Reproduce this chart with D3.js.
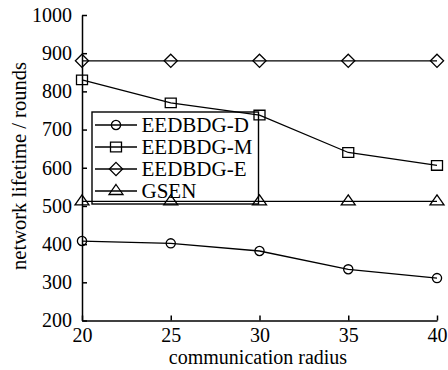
<!DOCTYPE html>
<html>
<head>
<meta charset="utf-8">
<script src="https://cdn.jsdelivr.net/npm/d3@7/dist/d3.min.js"></script>
<style>
  html, body { margin: 0; padding: 0; background: #fff; }
  svg { display: block; font-family: "Liberation Serif", "Times New Roman", serif; }
</style>
</head>
<body>
<svg id="chart" width="448" height="370"></svg>
<script>
// Communication radius on the x axis
const radius = [20, 25, 30, 35, 40];

// Network lifetime (rounds) for each protocol
const eedbdgD = [408, 402, 382, 334, 311];
const eedbdgM = [830, 770, 738, 640, 606];
const eedbdgE = [880, 880, 880, 880, 880];
const gsen    = [512, 512, 512, 512, 512];

const seriesNames = ["EEDBDG-D", "EEDBDG-M", "EEDBDG-E", "GSEN"];
const seriesValues = [eedbdgD, eedbdgM, eedbdgE, gsen];
const seriesMarkers = ["circle", "square", "diamond", "triangle"];

const xTicks = [20, 25, 30, 35, 40];
const yTicks = [200, 300, 400, 500, 600, 700, 800, 900, 1000];

const xLabel = "communication radius";
const yLabel = "network lifetime / rounds";

const svg = d3.select("#chart");
const x = d3.scaleLinear().domain([20, 40]).range([82, 437]);
const y = d3.scaleLinear().domain([200, 1000]).range([320.5, 15]);

// Open marker shapes, centred on (0,0)
function markerPath(kind) {
  switch (kind) {
    case "circle": {
      const p = d3.path(); p.arc(0, 0, 4.6, 0, 2 * Math.PI); return p.toString();
    }
    case "square": return "M-5.5,-4.8H5.5V4.8H-5.5Z";
    case "diamond": return "M0,-6.6L6.6,0L0,6.6L-6.6,0Z";
    case "triangle": return "M0,-6.5L7,3.5L-7,3.5Z";
  }
}

// Legend box (drawn first so the series lines sit on top)
const leg = svg.append("g");
leg.append("rect")
  .attr("x", 92).attr("y", 112).attr("width", 166.5).attr("height", 92)
  .attr("fill", "#fff").attr("stroke", "#000").attr("stroke-width", 1.4);
seriesNames.forEach((name, i) => {
  const cy = 125 + i * 22;
  const row = leg.append("g");
  row.append("line").attr("x1", 95).attr("x2", 137).attr("y1", cy).attr("y2", cy)
    .attr("stroke", "#000").attr("stroke-width", 1.3);
  row.append("path").attr("d", markerPath(seriesMarkers[i]))
    .attr("transform", `translate(116,${cy})`)
    .attr("fill", "none").attr("stroke", "#000").attr("stroke-width", 1.3);
  row.append("text").attr("x", 141.5).attr("y", cy).attr("dy", "0.34em")
    .attr("font-size", 21).attr("fill", "#000").text(name);
});

// Axes with inward ticks
const xAxis = d3.axisBottom(x).tickValues(xTicks).tickFormat(d3.format("d"))
  .tickSizeInner(-5).tickSizeOuter(0).tickPadding(7);
const yAxis = d3.axisLeft(y).tickValues(yTicks).tickFormat(d3.format("d"))
  .tickSizeInner(-5).tickSizeOuter(0).tickPadding(10);

const gx = svg.append("g").attr("transform", `translate(0,${y(200)})`).call(xAxis);
const gy = svg.append("g").attr("transform", `translate(${x(20)},0)`).call(yAxis);
[gx, gy].forEach(g => {
  g.attr("font-family", null).attr("font-size", 20);
  g.selectAll("path, line").attr("stroke", "#000").attr("stroke-width", 1.5);
  g.selectAll("text").attr("fill", "#000");
});

// Series lines and markers
const line = d3.line().x((d, i) => x(radius[i])).y(d => y(d));
seriesValues.forEach((vals, s) => {
  svg.append("path").datum(vals).attr("d", line)
    .attr("fill", "none").attr("stroke", "#000").attr("stroke-width", 1.3);
  svg.append("g").selectAll("path").data(vals).join("path")
    .attr("d", markerPath(seriesMarkers[s]))
    .attr("transform", (d, i) => `translate(${x(radius[i])},${y(d)})`)
    .attr("fill", "none").attr("stroke", "#000").attr("stroke-width", 1.3);
});

// Axis titles
svg.append("text").attr("x", 258).attr("y", 364).attr("text-anchor", "middle")
  .attr("font-size", 20).attr("fill", "#000").text(xLabel);
svg.append("text").attr("transform", "translate(26,166) rotate(-90)")
  .attr("text-anchor", "middle").attr("font-size", 20.5).attr("fill", "#000").text(yLabel);
</script>
</body>
</html>
